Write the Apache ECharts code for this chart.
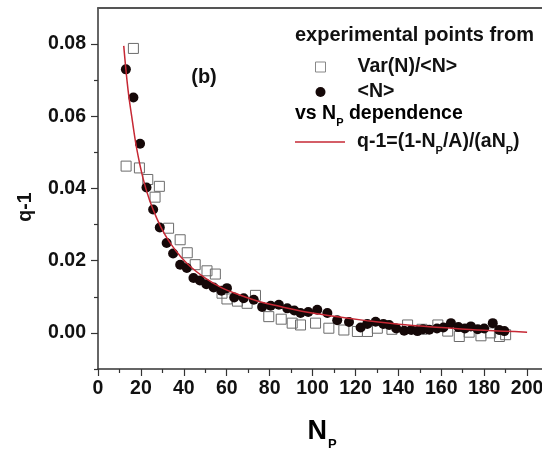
<!DOCTYPE html>
<html>
<head>
<meta charset="utf-8">
<script src="https://cdn.jsdelivr.net/npm/echarts@6/dist/echarts.min.js"></script>
<style>
  html, body { margin: 0; padding: 0; background: #fff; }
  #chart { width: 542px; height: 450px; }
</style>
</head>
<body>
<div id="chart"></div>
<script>
// tick labels
const xTicks = [0, 20, 40, 60, 80, 100, 120, 140, 160, 180, 200]
const yTicks = [0, 0.02, 0.04, 0.06, 0.08]
const yMinorTicks = [-0.01, 0.01, 0.03, 0.05, 0.07]

// Var(N)/<N> (open squares)
const npSquares = [13.1, 16.5, 19.3, 23.2, 26.6, 28.6, 32.9, 38.3, 41.6, 45.3, 50.8, 54.7, 57.8, 60.1, 65, 69.5, 73.4, 79.6, 85.4, 90.5, 94.4, 101.4, 107.6, 114.6, 120.9, 125.6, 130.2, 137, 144.3, 151, 158.4, 163, 168.4, 173, 178.5, 183, 187.1, 190]
const qSquares = [0.0462, 0.0788, 0.0457, 0.0425, 0.0376, 0.0406, 0.0290, 0.0258, 0.0222, 0.0189, 0.0172, 0.0163, 0.0110, 0.0094, 0.0088, 0.0082, 0.0104, 0.0045, 0.0038, 0.0027, 0.0022, 0.0027, 0.0013, 0.0008, 0.0004, 0.0004, 0.0013, 0.0010, 0.0022, 0.0010, 0.0022, 0.0005, -0.0010, 0.0002, -0.0008, 0.0000, -0.0010, -0.0005]

// <N> (filled circles)
const npCircles = [13, 16.5, 19.6, 22.6, 25.7, 28.8, 32, 35, 38.3, 41.4, 44.5, 47.5, 50.5, 53.9, 57.5, 60.1, 63.5, 67.9, 72.6, 76.5, 80.5, 84.3, 88.2, 91.5, 94.4, 98, 102.2, 106.9, 111.5, 117, 122.4, 125.5, 129.4, 133, 135.7, 139, 142.7, 146, 148.9, 151.5, 154.4, 158, 161, 164.5, 168, 171, 173.8, 177, 180, 184, 187, 189.4]
const qCircles = [0.0730, 0.0652, 0.0524, 0.0403, 0.0342, 0.0292, 0.0249, 0.0220, 0.0189, 0.0180, 0.0152, 0.0145, 0.0135, 0.0126, 0.0117, 0.0124, 0.0098, 0.0096, 0.0092, 0.0072, 0.0075, 0.0078, 0.0068, 0.0062, 0.0055, 0.0058, 0.0064, 0.0055, 0.0035, 0.0030, 0.0015, 0.0025, 0.0031, 0.0025, 0.0022, 0.0012, 0.0006, 0.0008, 0.0005, 0.0010, 0.0009, 0.0012, 0.0015, 0.0027, 0.0016, 0.0012, 0.0018, 0.0010, 0.0012, 0.0027, 0.0008, 0.0005]

// q-1 = (1-Np/A)/(a Np) curve
const npFit = [12, 14, 16, 18, 21, 24, 27.5, 31, 34, 38, 43, 50, 58, 66, 75, 85, 95, 110, 125, 140, 160, 180, 200]
const qFit = [0.0795, 0.0673, 0.0588, 0.0512, 0.0428, 0.0368, 0.0316, 0.0274, 0.0246, 0.0215, 0.0184, 0.0152, 0.0124, 0.0105, 0.0087, 0.0073, 0.0060, 0.0046, 0.0034, 0.0024, 0.0015, 0.0007, 0.0002]

const zip = (xs, ys) => xs.map((x, i) => [x, ys[i]])

const FONT = '"Liberation Sans", Arial, sans-serif'
const INK = '#111'
const AXIS = '#333'
const FIT_RED = '#c62834'
const FS = 19.5
const GRID_W = 472 // 0..220 on x, right part runs off the canvas

const chart = echarts.init(document.getElementById('chart'), null, { renderer: 'canvas' })

const txt = { fontSize: FS, fontWeight: 'bold', fontFamily: FONT, color: INK, lineHeight: 22 }
const sub = { fontSize: 11, fontWeight: 'bold', fontFamily: FONT, color: INK, verticalAlign: 'bottom', padding: [0, 0, -3, 0] }

chart.setOption({
  animation: false,
  backgroundColor: '#fff',
  grid: { left: 98, width: GRID_W, top: 8, bottom: 81, outerBoundsMode: 'none', containLabel: false },
  xAxis: [{
    type: 'value', min: 0, max: 220, interval: 20,
    axisLine: { onZero: false, lineStyle: { color: AXIS, width: 1.5 } },
    axisTick: { length: 7, lineStyle: { color: AXIS, width: 1.2 } },
    minorTick: { show: true, splitNumber: 2, length: 4, lineStyle: { color: AXIS, width: 1.2 } },
    axisLabel: { customValues: xTicks, color: INK, fontSize: FS, fontWeight: 'bold', fontFamily: FONT, margin: 10 },
    splitLine: { show: false },
  }, {
    type: 'value', min: 0, max: 220, position: 'top',
    axisLine: { onZero: false, lineStyle: { color: '#555', width: 2 } },
    axisTick: { show: false }, axisLabel: { show: false }, splitLine: { show: false },
  }],
  yAxis: [{
    type: 'value', min: -0.01, max: 0.09, interval: 0.01,
    axisLine: { show: true, onZero: false, lineStyle: { color: AXIS, width: 1.5 } },
    axisTick: { customValues: yTicks, length: 7, lineStyle: { color: AXIS, width: 1.2 } },
    axisLabel: {
      customValues: yTicks, color: INK, fontSize: FS, fontWeight: 'bold', fontFamily: FONT, margin: 12,
      formatter: (v) => v.toFixed(2),
    },
    splitLine: { show: false },
  }, {
    // minor ticks, parked on the left edge
    type: 'value', min: -0.01, max: 0.09, interval: 0.01, position: 'right', offset: -GRID_W,
    axisLine: { show: false, onZero: false },
    axisTick: { inside: true, customValues: yMinorTicks, length: 4, lineStyle: { color: AXIS, width: 1.2 } },
    axisLabel: { show: false }, splitLine: { show: false },
  }],
  legend: [{
    data: [
      { name: 'Var(N)/<N>', icon: 'rect', itemStyle: { color: 'rgba(0,0,0,0)', borderColor: '#888', borderWidth: 1 } },
      { name: '<N>', icon: 'circle' },
    ],
    orient: 'vertical', left: 315, top: 56, padding: 0, itemWidth: 10, itemHeight: 10, itemGap: 3,
    textStyle: { ...txt, padding: [0, 0, 0, 27] },
  }, {
    data: [{ name: 'fit', icon: 'rect' }],
    left: 295, top: 132, padding: 0, itemWidth: 50, itemHeight: 1.5,
    formatter: () => '{a|q-1=(1-N}{s|P}{a|/A)/(aN}{s|P}{a|)}',
    textStyle: { padding: [0, 0, 0, 7], rich: { a: txt, s: sub } },
  }],
  graphic: [
    { type: 'text', left: 295, top: 25, style: { text: 'experimental points from', fill: INK, font: 'bold 20px ' + FONT } },
    { type: 'text', left: 295, top: 104, style: { text: '{a|vs N}{s|P}{a| dependence}', rich: { a: txt, s: sub } } },
    { type: 'text', x: 204, y: 77, style: { text: '(b)', fill: INK, font: 'bold 20px ' + FONT, align: 'center', verticalAlign: 'middle' } },
    { type: 'text', x: 26, y: 207, rotation: Math.PI / 2, style: { text: 'q-1', fill: INK, font: 'bold ' + FS + 'px ' + FONT, align: 'center', verticalAlign: 'middle' } },
    {
      type: 'text', x: 322, y: 432,
      style: {
        text: '{n|N}{s|P}', align: 'center', verticalAlign: 'middle',
        rich: { n: { fontSize: 27, fontWeight: 'bold', fontFamily: FONT, color: INK, lineHeight: 28 }, s: { ...sub, fontSize: 13, padding: [0, 0, -5, 1] } },
      },
    },
  ],
  series: [{
    name: 'Var(N)/<N>', type: 'scatter', symbol: 'rect', symbolSize: 10,
    itemStyle: { color: 'rgba(0,0,0,0)', borderColor: '#6b6b6b', borderWidth: 1, opacity: 1 },
    data: zip(npSquares, qSquares), z: 2,
  }, {
    name: '<N>', type: 'scatter', symbol: 'circle', symbolSize: 10,
    itemStyle: { color: '#150808', opacity: 1 },
    data: zip(npCircles, qCircles), z: 3,
  }, {
    name: 'fit', type: 'line', smooth: 0.4, showSymbol: false, symbol: 'none',
    lineStyle: { color: FIT_RED, width: 1.5 }, itemStyle: { color: FIT_RED },
    data: zip(npFit, qFit), z: 4,
  }],
})
</script>
</body>
</html>
